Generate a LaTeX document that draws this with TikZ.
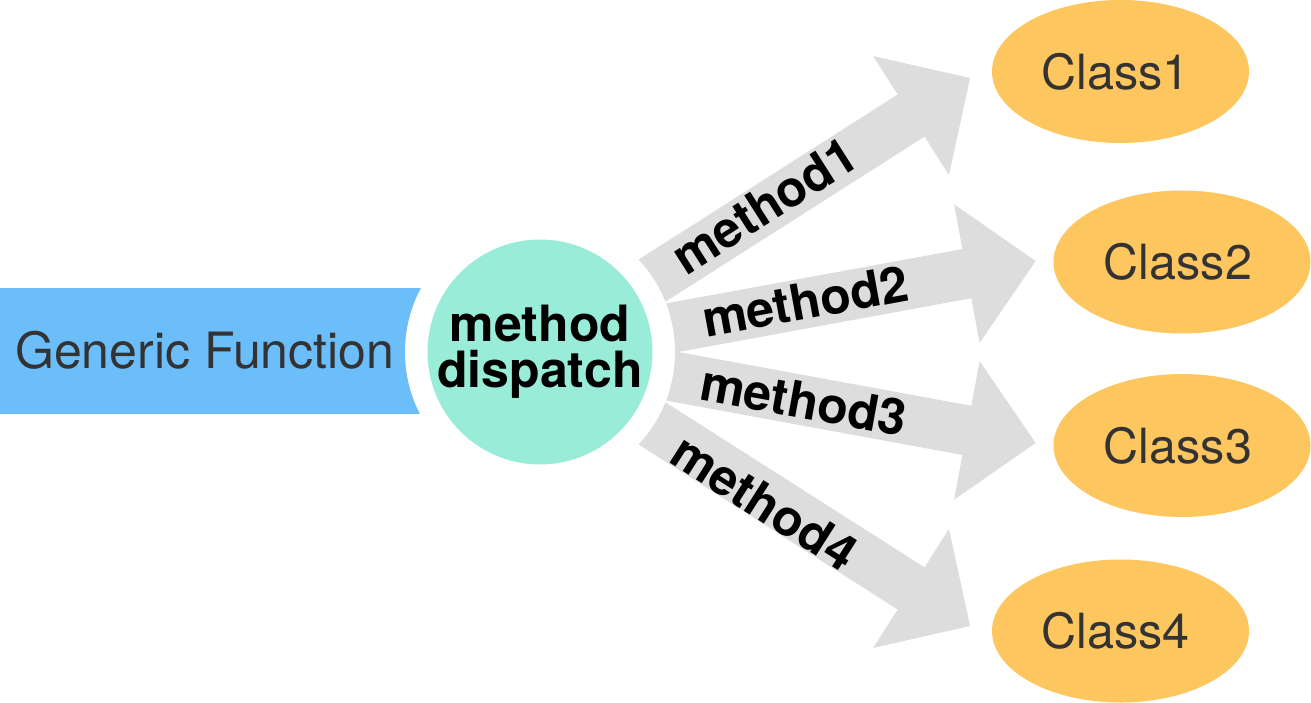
\documentclass[tikz,border=0pt]{standalone}
\usepackage{fontspec}
\setmainfont{TeX Gyre Heros}
\usetikzlibrary{calc,shapes.geometric}
\definecolor{gfblue}{RGB}{107,190,250}
\definecolor{mdmint}{RGB}{152,236,216}
\definecolor{argray}{RGB}{221,221,221}
\definecolor{clyellow}{RGB}{253,198,94}
\definecolor{txtgray}{RGB}{51,51,51}
\tikzset{
  fatarrow/.pic={\fill[argray] (0,25) -- ({#1-70},25) -- ({#1-70},70.5) -- (#1,0) -- ({#1-70},-70.5) -- ({#1-70},-25) -- (0,-25) -- cycle;},
  classnode/.style={ellipse, fill=clyellow, minimum width=257pt, minimum height=143pt, inner sep=0pt, text=txtgray, font=\fontsize{48.5}{48.5}\selectfont},
  lbl/.style={font=\bfseries\fontsize{50}{50}\selectfont, text=black, inner sep=0pt},
  dispatchnode/.style={circle, fill=mdmint, minimum size=220pt, inner sep=0pt, align=center, font=\bfseries\fontsize{50}{46}\selectfont},
  gftext/.style={anchor=base west, inner sep=0pt, text=txtgray, font=\fontsize{50}{50}\selectfont}
}
\begin{document}
\begin{tikzpicture}[x=1pt,y=1pt]
\useasboundingbox (0,0) rectangle (1311,702);
\coordinate (mdc) at (540,350);
% banner
\fill[gfblue] (0,288) rectangle (540,414);
% arrows
\pic[rotate=32.5] at (mdc) {fatarrow=510};
\pic[rotate=10.4] at (mdc) {fatarrow=504};
\pic[rotate=-10.4] at (mdc) {fatarrow=504};
\pic[rotate=-32.5] at (mdc) {fatarrow=510};
% white ring
\fill[white] (mdc) circle (135);
% central node
\node[dispatchnode] (md) at (mdc) {method\\dispatch};
\node[gftext] (gf) at (15,333) {Generic Function};
% labels
\node[lbl, rotate=32.5] (m1) at ($(mdc)+(32.5:268)+(122.5:3)$) {method1};
\node[lbl, rotate=10.4] (m2) at ($(mdc)+(10.4:270)+(100.4:2)$) {method2};
\node[lbl, rotate=-10.4] (m3) at ($(mdc)+(-10.4:268)$) {method3};
\node[lbl, rotate=-32.5] (m4) at ($(mdc)+(-32.5:270)+(-122.5:6)$) {method4};
% classes
\node[classnode] (c1) at (1120.5,630.5) {Class1\kern10pt};
\node[classnode] (c2) at (1182,440) {Class2\kern8pt};
\node[classnode] (c3) at (1182,256.5) {Class3\kern8pt};
\node[classnode] (c4) at (1120.5,71) {Class4\kern10pt};
\end{tikzpicture}
\end{document}
